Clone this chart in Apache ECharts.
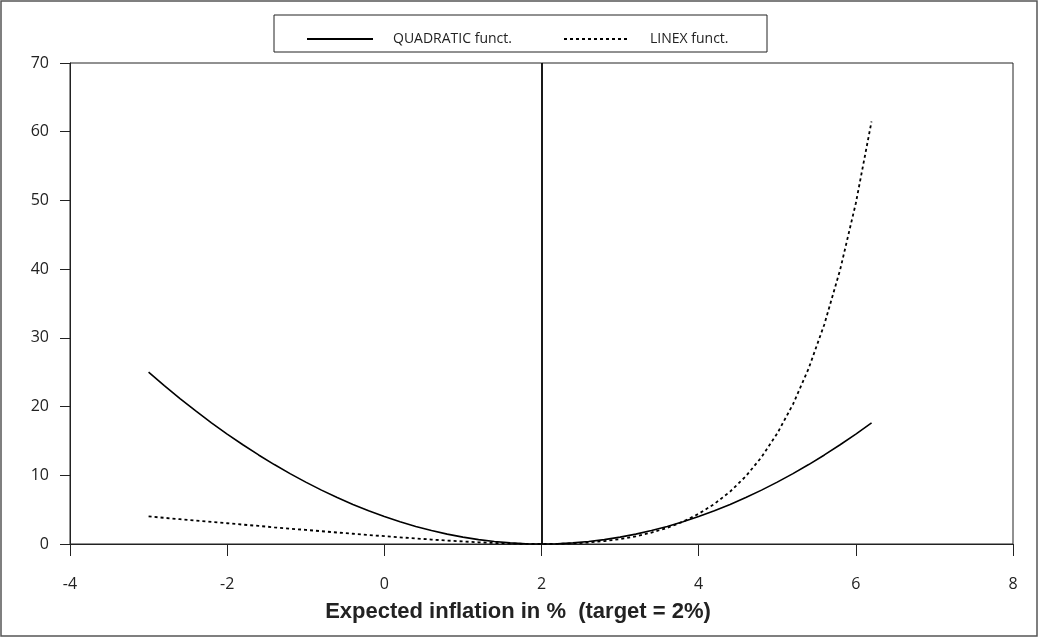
<!DOCTYPE html>
<html>
<head>
<meta charset="utf-8">
<style>
  html, body { margin: 0; padding: 0; background: #fff; }
  #chart { width: 1039px; height: 639px; }
</style>
<script src="https://cdn.jsdelivr.net/npm/echarts@6/dist/echarts.min.js"></script>
</head>
<body>
<div id="chart"></div>
<script>
// x values (expected inflation, %)
const inflation = [
  -3, -2.8, -2.6, -2.4, -2.2, -2, -1.8, -1.6, -1.4, -1.2, -1, -0.8, -0.6, -0.4, -0.2,
  0, 0.2, 0.4, 0.6, 0.8, 1, 1.2, 1.4, 1.6, 1.8, 2, 2.2, 2.4, 2.6, 2.8, 3, 3.2, 3.4,
  3.6, 3.8, 4, 4.2, 4.4, 4.6, 4.8, 5, 5.2, 5.4, 5.6, 5.8, 6, 6.2,
];
const quadraticLoss = [
  25, 23.04, 21.16, 19.36, 17.64, 16, 14.44, 12.96, 11.56, 10.24, 9, 7.84, 6.76, 5.76, 4.84,
  4, 3.24, 2.56, 1.96, 1.44, 1, 0.64, 0.36, 0.16, 0.04, 0, 0.04, 0.16, 0.36, 0.64, 1, 1.44, 1.96,
  2.56, 3.24, 4, 4.84, 5.76, 6.76, 7.84, 9, 10.24, 11.56, 12.96, 14.44, 16, 17.64,
];
const linexLoss = [
  4.01, 3.81, 3.61, 3.41, 3.22, 3.02, 2.82, 2.63, 2.43, 2.24, 2.05, 1.86, 1.67, 1.49, 1.31,
  1.14, 0.97, 0.8, 0.65, 0.5, 0.37, 0.25, 0.15, 0.07, 0.02, 0, 0.02, 0.09, 0.22, 0.43, 0.72, 1.12, 1.66,
  2.35, 3.25, 4.39, 5.83, 7.62, 9.86, 12.64, 16.09, 20.33, 25.56, 31.99, 39.9, 49.6, 61.49,
];
const targetRate = 2;
const seriesNames = ['QUADRATIC funct.', 'LINEX funct.'];
const xTitle = 'Expected inflation in %  (target = 2%)';

const chart = echarts.init(document.getElementById('chart'), null, { renderer: 'canvas' });

const tickFont = { color: '#222', fontSize: 16, fontFamily: 'Open Sans' };
const legendText = { color: '#222', fontSize: 14, fontFamily: 'Open Sans', padding: [0, 0, 0, 15] };
const legendBase = {
  top: 27, itemWidth: 66, itemHeight: 14, selectedMode: false,
  textStyle: legendText, itemStyle: { opacity: 0 },
};

chart.setOption({
  backgroundColor: '#fff',
  animation: false,
  grid: {
    left: 70, top: 63, width: 943, height: 481,
    show: true, borderColor: '#222', borderWidth: 1,
  },
  legend: [
    { ...legendBase, data: [seriesNames[0]], left: 301 },
    { ...legendBase, data: [seriesNames[1]], left: 558 },
  ],
  xAxis: {
    type: 'value', min: -4, max: 8, interval: 2,
    axisLine: { show: true, onZero: false, lineStyle: { color: '#222', width: 1 } },
    axisTick: { show: true, length: 12, lineStyle: { color: '#222' } },
    axisLabel: { ...tickFont, margin: 32 },
    splitLine: { show: false },
  },
  yAxis: {
    type: 'value', min: 0, max: 70, interval: 10,
    axisLine: { show: true, onZero: false, lineStyle: { color: '#222', width: 1 } },
    axisTick: { show: true, length: 10, lineStyle: { color: '#222' } },
    axisLabel: { ...tickFont, margin: 21 },
    splitLine: { show: false },
  },
  graphic: [
    {
      type: 'rect', silent: true,
      shape: { x: 1, y: 1, width: 1036, height: 635 },
      style: { fill: 'none', stroke: '#555', lineWidth: 1.5 },
    },
    {
      type: 'rect', silent: true,
      shape: { x: 274, y: 15, width: 493, height: 37 },
      style: { fill: 'none', stroke: '#222', lineWidth: 1 },
    },
    {
      type: 'text', silent: true, x: 518, y: 612,
      style: {
        text: xTitle, fill: '#222', font: 'bold 22px "Liberation Sans", Arial, sans-serif',
        textAlign: 'center', textVerticalAlign: 'middle',
      },
    },
  ],
  series: [
    {
      name: seriesNames[0],
      type: 'line',
      symbol: 'none',
      data: inflation.map((x, i) => [x, quadraticLoss[i]]),
      lineStyle: { color: '#000', width: 1.6 },
      itemStyle: { color: '#000' },
      markLine: {
        silent: true, symbol: 'none', label: { show: false },
        lineStyle: { color: '#000', width: 1.8, type: 'solid' },
        data: [{ xAxis: targetRate }],
      },
    },
    {
      name: seriesNames[1],
      type: 'line',
      symbol: 'none',
      data: inflation.map((x, i) => [x, linexLoss[i]]),
      lineStyle: { color: '#000', width: 1.8, type: [3, 3] },
      itemStyle: { color: '#000' },
    },
  ],
});

window.addEventListener('resize', () => chart.resize());
</script>
</body>
</html>
